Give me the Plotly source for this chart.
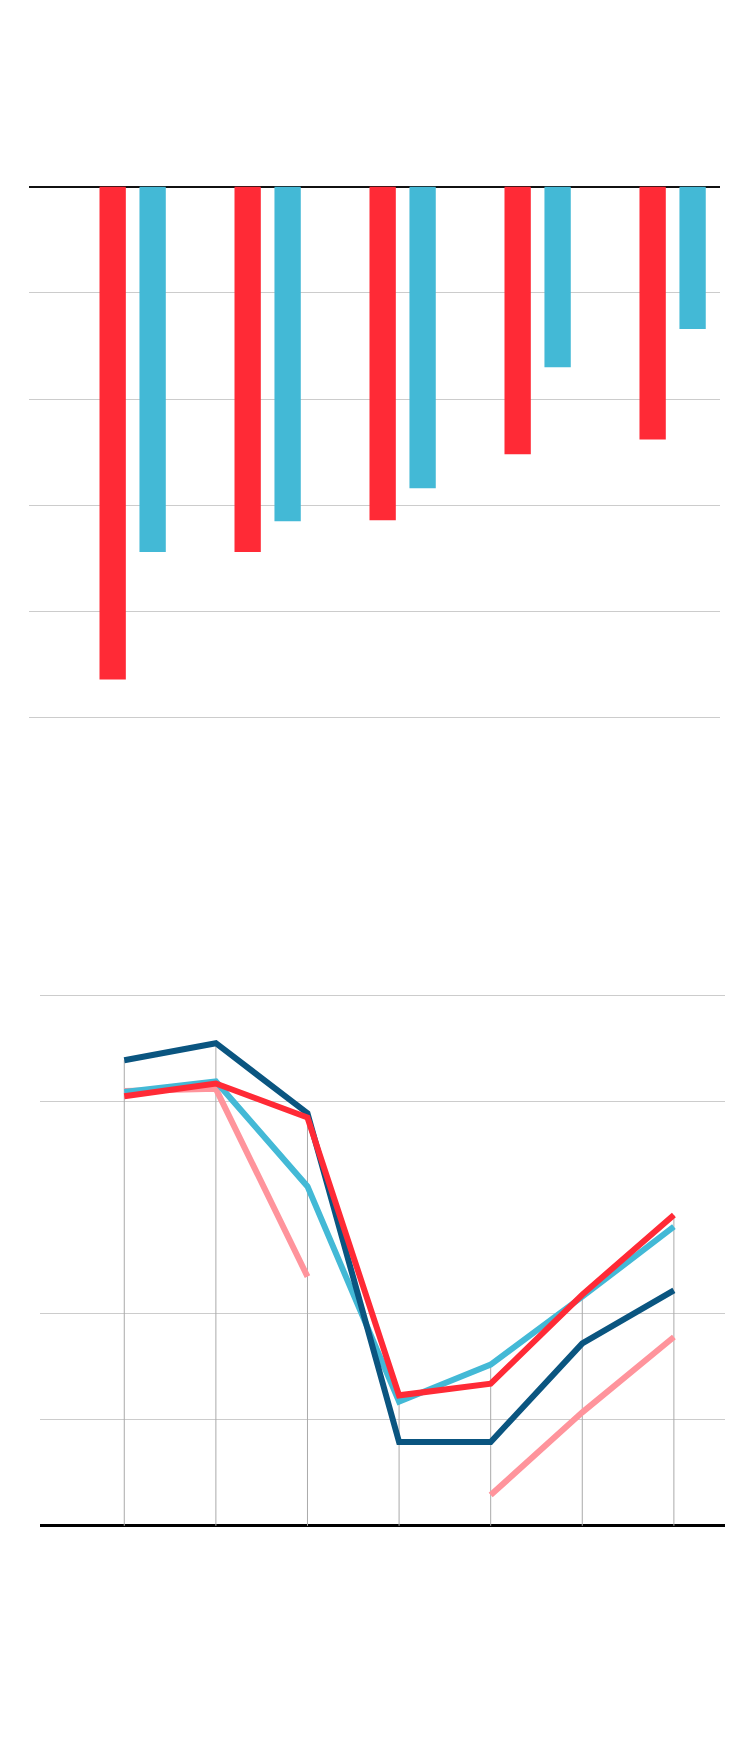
import plotly.graph_objects as go

# ---- Top chart (bars, negative values) ----
bar_groups = [0, 1, 2, 3, 4]
bar_red = [-4.64, -3.44, -3.14, -2.52, -2.38]
bar_blue = [-3.44, -3.15, -2.84, -1.70, -1.34]

# ---- Bottom chart (lines) ----
periods = [0, 1, 2, 3, 4, 5, 6]
line_navy = [4.39, 4.55, 3.89, 0.79, 0.79, 1.72, 2.22]
line_red = [4.05, 4.17, 3.85, 1.23, 1.34, 2.18, 2.93]
line_blue = [4.09, 4.19, 3.20, 1.17, 1.52, 2.16, 2.82]
line_pink = [4.10, 4.12, 2.35, None, 0.29, 1.07, 1.78]
bottom_gridvals = [1, 2, 4, 5]

RED = "#FF2A36"
BLUE = "#43B9D6"
NAVY = "#0A5580"
PINK = "#FF949C"
GRID = "#cccccc"

fig = go.Figure()

bw = 0.195
half = 0.148
fig.add_trace(go.Bar(x=bar_groups, y=bar_red, width=bw, offset=-half - bw / 2,
                     marker=dict(color=RED, line=dict(width=0)),
                     xaxis="x", yaxis="y", showlegend=False, hoverinfo="skip"))
fig.add_trace(go.Bar(x=bar_groups, y=bar_blue, width=bw, offset=half - bw / 2,
                     marker=dict(color=BLUE, line=dict(width=0)),
                     xaxis="x", yaxis="y", showlegend=False, hoverinfo="skip"))

# drop lines from the highest value at each period to the baseline
series = [line_navy, line_red, line_blue, line_pink]
dx, dy = [], []
for i, p in enumerate(periods):
    vals = [s[i] for s in series if s[i] is not None]
    dx += [p, p, None]
    dy += [max(vals), 0, None]
fig.add_trace(go.Scatter(x=dx, y=dy, mode="lines",
                         line=dict(color="#aaaaaa", width=1),
                         xaxis="x2", yaxis="y2", showlegend=False, hoverinfo="skip"))

for vals, col in [(line_pink, PINK), (line_blue, BLUE), (line_navy, NAVY), (line_red, RED)]:
    fig.add_trace(go.Scatter(x=periods, y=vals, mode="lines",
                             line=dict(color=col, width=6),
                             connectgaps=False,
                             xaxis="x2", yaxis="y2", showlegend=False, hoverinfo="skip"))

W = 734.0
H = 1738.0
OFF = 8.0  # page body margin
fig.update_layout(
    width=int(W), height=int(H),
    margin=dict(l=0, r=0, t=0, b=0),
    paper_bgcolor="white", plot_bgcolor="white",
    barmode="overlay",
    xaxis=dict(domain=[(28.7 - OFF) / W, (719.6 - OFF) / W], range=[-0.770, 4.348],
               showgrid=False, zeroline=False, showticklabels=False, ticks=""),
    yaxis=dict(domain=[1 - (186.7 - OFF + 5.2 * 106.2) / H, 1 - (186.7 - OFF - 0.5 * 106.2) / H],
               range=[-5.2, 0.5],
               dtick=1, tick0=0, showgrid=True, gridcolor=GRID, gridwidth=1.3,
               zeroline=True, zerolinecolor="#111111", zerolinewidth=2,
               showticklabels=False, ticks=""),
    xaxis2=dict(domain=[(40 - OFF) / W, (725 - OFF) / W], range=[-0.920, 6.558],
                showgrid=False, zeroline=False, showticklabels=False, ticks=""),
    yaxis2=dict(domain=[1 - (1525.8 - OFF + 0.2 * 106.06) / H, 1 - (1525.8 - OFF - 5.3 * 106.06) / H],
                range=[-0.2, 5.3],
                tickmode="array", tickvals=bottom_gridvals,
                showgrid=True, gridcolor=GRID, gridwidth=1.3,
                zeroline=True, zerolinecolor="#000000", zerolinewidth=2.6,
                showticklabels=False, ticks=""),
)

fig.write_html("out.html")
